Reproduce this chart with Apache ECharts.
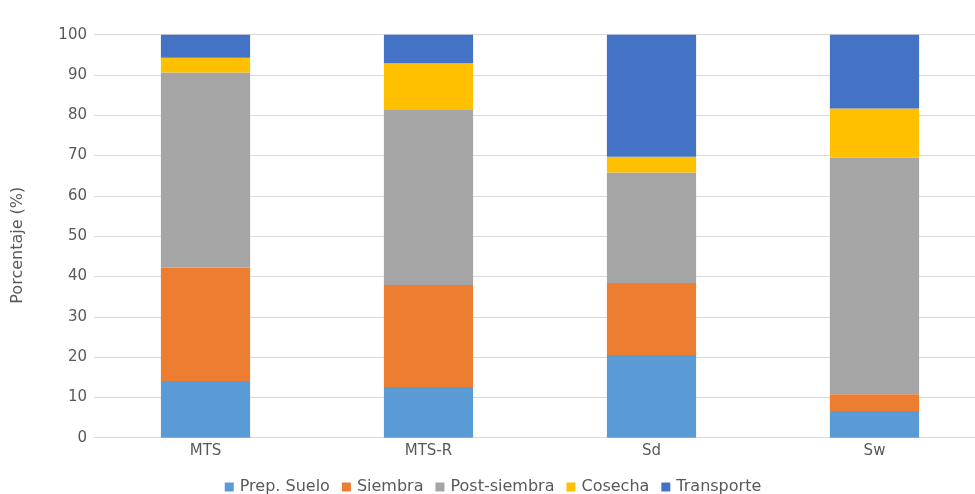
<!DOCTYPE html>
<html><head><meta charset="utf-8">
<script src="https://cdn.jsdelivr.net/npm/echarts@6/dist/echarts.min.js"></script>
<style>html,body{margin:0;padding:0;background:#fff;overflow:hidden;width:975px;height:494px}#c{width:986px;height:494px}</style>
</head><body><div id="c"></div>
<script>
const categories = ['MTS', 'MTS-R', 'Sd', 'Sw'];
const seriesNames = ['Prep. Suelo', 'Siembra', 'Post-siembra', 'Cosecha', 'Transporte'];
const prepSuelo = [14.1, 12.6, 20.5, 6.6];
const siembra = [28.1, 25.3, 17.9, 4.2];
const postSiembra = [48.4, 43.4, 27.4, 58.7];
const cosecha = [3.7, 11.6, 3.9, 12.2];
const transporte = [5.7, 7.1, 30.3, 18.3];
const yTicks = [0, 10, 20, 30, 40, 50, 60, 70, 80, 90, 100];

const colors = ['#5b9bd5', '#ed7d31', '#a5a5a5', '#ffc000', '#4472c4'];
const values = [prepSuelo, siembra, postSiembra, cosecha, transporte];

const chart = echarts.init(document.getElementById('c'), null, {renderer: 'canvas'});
chart.setOption({
  animation: false,
  backgroundColor: '#ffffff',
  color: colors,
  grid: {left: 94, top: 34.7, right: 0, bottom: 56.3, containLabel: false},
  legend: {
    top: 474, left: 'center', itemWidth: 9, itemHeight: 9, itemGap: 12,
    icon: 'rect',
    textStyle: {color: '#595959', fontSize: 16, fontFamily: 'DejaVu Sans', padding: [0, 0, 0, 1]},
    data: seriesNames
  },
  xAxis: {
    type: 'category', data: categories,
    axisLine: {lineStyle: {color: '#d9d9d9'}},
    axisTick: {show: false},
    axisLabel: {color: '#595959', fontSize: 15, fontFamily: 'DejaVu Sans', margin: 6}
  },
  yAxis: {
    type: 'value', min: yTicks[0], max: yTicks[yTicks.length - 1], interval: 10,
    name: 'Porcentaje (%)', nameLocation: 'middle', nameGap: 68, nameRotate: 90,
    nameTextStyle: {color: '#595959', fontSize: 16, fontFamily: 'DejaVu Sans', padding: [0, 18, 0, 0]},
    axisLine: {show: false}, axisTick: {show: false},
    splitLine: {lineStyle: {color: '#d9d9d9', width: 1}},
    axisLabel: {color: '#595959', fontSize: 15, fontFamily: 'DejaVu Sans', margin: 7}
  },
  series: seriesNames.map((n, i) => ({
    name: n, type: 'bar', stack: 'total', barWidth: '40%',
    data: values[i], itemStyle: {color: colors[i]}
  }))
});
</script></body></html>
